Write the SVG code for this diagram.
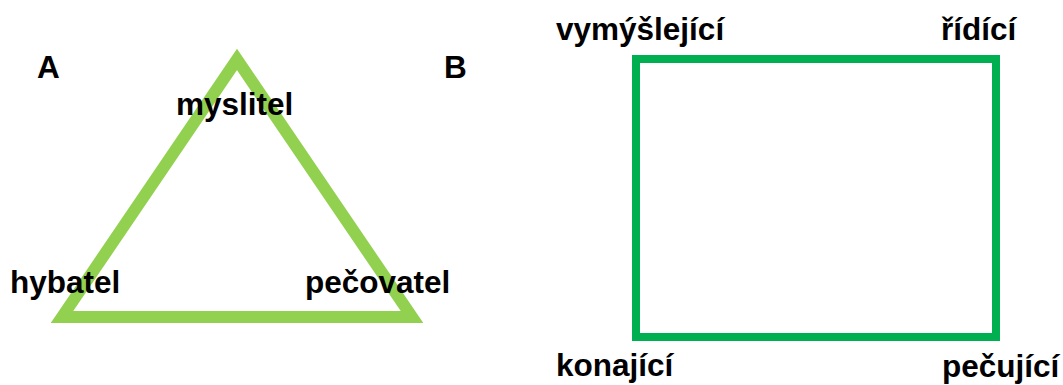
<svg xmlns="http://www.w3.org/2000/svg" width="1063" height="385" viewBox="0 0 1063 385">
<style>
.t{font-family:"Liberation Sans",Arial,sans-serif;font-weight:bold;font-size:31.5px;fill:#000}
</style>
<rect width="1063" height="385" fill="#fff"/>
<g id="connectors">
<polygon id="triangle" points="62,317 237,59.5 412,317" fill="none" stroke="#92D050" stroke-width="12" stroke-linejoin="miter" stroke-miterlimit="10"/>
<rect id="rectangle" x="636" y="59" width="360" height="278" fill="none" stroke="#00B050" stroke-width="8"/>
</g>
<g id="label-A"><text class="t" x="37" y="78">A</text></g>
<g id="label-B"><text class="t" x="444" y="78">B</text></g>
<g id="node-myslitel"><text class="t" x="176" y="115">myslitel</text></g>
<g id="node-hybatel"><text class="t" x="10" y="293">hybatel</text></g>
<g id="node-pecovatel"><text class="t" x="305" y="293">pečovatel</text></g>
<g id="node-vymyslejici"><text class="t" x="556" y="40">vymýšlející</text></g>
<g id="node-ridici"><text class="t" x="941" y="40">řídící</text></g>
<g id="node-konajici"><text class="t" x="556" y="376">konající</text></g>
<g id="node-pecujici"><text class="t" x="942" y="377">pečující</text></g>
</svg>
